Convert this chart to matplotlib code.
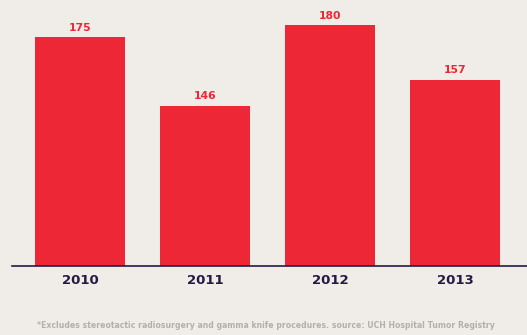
import matplotlib
matplotlib.use("Agg")
import matplotlib.pyplot as plt

years = ["2010", "2011", "2012", "2013"]
values = [175, 146, 180, 157]
footnote = "*Excludes stereotactic radiosurgery and gamma knife procedures. source: UCH Hospital Tumor Registry"

BG = "#f0ede8"
RED = "#ee2737"
NAVY = "#241b45"
GRAY = "#b3afad"

fig = plt.figure(figsize=(5.27, 3.35), dpi=100, facecolor=BG)
ax = fig.add_axes([12/527, (335-266)/335, 515/527, 266/335])
ax.set_facecolor(BG)

x = list(range(len(years)))
bars = ax.bar(x, values, width=0.72, color=RED, zorder=2)
ax.set_xlim(-0.544, 3.576)
ax.set_ylim(78, 78 + 266/2.359)

for xi, v in zip(x, values):
    ax.annotate(str(v), (xi, v), xytext=(0, 3), textcoords="offset points",
                ha="center", va="bottom", color=RED, fontsize=7.8, fontweight="bold")

for s in ["top", "right", "left"]:
    ax.spines[s].set_visible(False)
ax.spines["bottom"].set_color(NAVY)
ax.spines["bottom"].set_linewidth(1.2)
ax.set_yticks([])
ax.set_xticks(x)
ax.set_xticklabels(years, fontsize=9.5, fontweight="bold", color=NAVY)
ax.tick_params(axis="x", length=0, pad=6)

fig.text(266/527, 1 - 325/335, footnote, ha="center", va="center",
         fontsize=5.6, fontweight="bold", color=GRAY)

fig.savefig("out.png", dpi=100, facecolor=BG)
